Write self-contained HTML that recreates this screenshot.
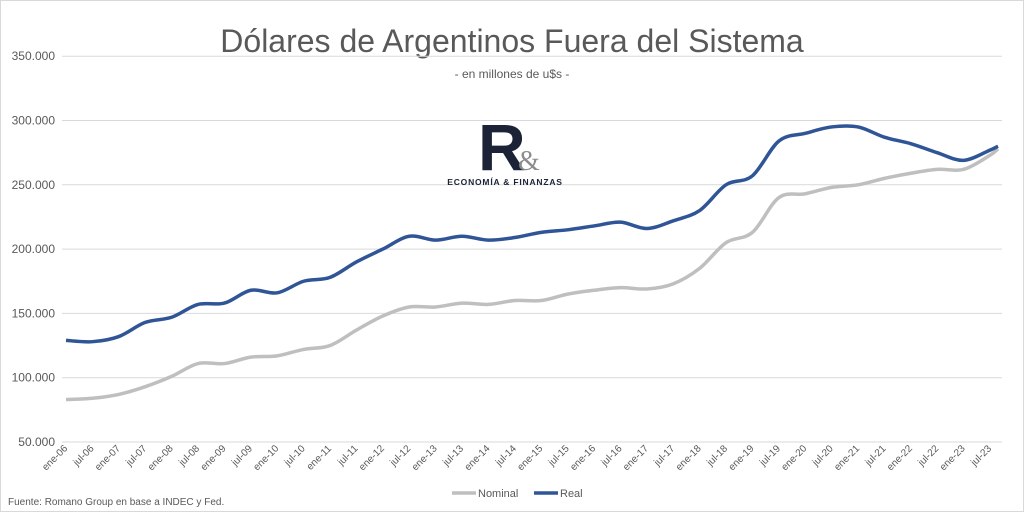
<!DOCTYPE html>
<html><head><meta charset="utf-8"><style>
body{margin:0;background:#fff;}
svg{display:block;font-family:"Liberation Sans",sans-serif;}
</style></head><body>
<svg id="s" width="1024" height="512" viewBox="0 0 1024 512">
<rect x="0.5" y="0.5" width="1023" height="511" fill="#fff" stroke="#d9d9d9"/>
<text x="512" y="52" text-anchor="middle" font-size="32" fill="#595959">Dólares de Argentinos Fuera del Sistema</text>
<text x="512" y="78" text-anchor="middle" font-size="12" fill="#595959">- en millones de u$s  -</text>
<g id="grid" stroke="#d9d9d9" stroke-width="1"></g>
<g id="yl" font-size="12" fill="#595959" text-anchor="end"></g>
<g id="xl" font-size="10" fill="#595959" text-anchor="end"></g>
<text x="478" y="170" font-size="66" font-weight="bold" fill="#1c2337" font-family="Liberation Sans,sans-serif">R</text>
<text x="518" y="170" font-size="28" fill="#8c8c8c" font-family="Liberation Serif,serif">&amp;</text>
<text x="505" y="185" text-anchor="middle" font-size="8.5" font-weight="bold" fill="#1c2337" letter-spacing="0.8">ECONOMÍA &amp; FINANZAS</text>
<path id="nom" fill="none" stroke="#bfbfbf" stroke-width="3.5" stroke-linejoin="round"/>
<path id="real" fill="none" stroke="#2f5597" stroke-width="3.5" stroke-linejoin="round"/>
<line x1="452" y1="493" x2="476" y2="493" stroke="#bfbfbf" stroke-width="3.5"/>
<text x="478" y="497" font-size="11" fill="#595959">Nominal</text>
<line x1="534" y1="493" x2="558" y2="493" stroke="#2f5597" stroke-width="3.5"/>
<text x="560" y="497" font-size="11" fill="#595959">Real</text>
<text x="8" y="505" font-size="10" fill="#595959">Fuente: Romano Group en base a INDEC y Fed.</text>
</svg>
<script>
var ns="http://www.w3.org/2000/svg";
function Y(v){return 442-(v-50)*64.3/50;}
var g=document.getElementById('grid'),yl=document.getElementById('yl'),xl=document.getElementById('xl');
for(var v=50;v<=350;v+=50){var y=Y(v);
 var l=document.createElementNS(ns,'line');l.setAttribute('x1',62);l.setAttribute('x2',1002);l.setAttribute('y1',y);l.setAttribute('y2',y);g.appendChild(l);
 var t=document.createElementNS(ns,'text');t.setAttribute('x',55);t.setAttribute('y',y+4);t.textContent=v+'.000';yl.appendChild(t);}
for(var i=0;i<36;i++){var yr=6+Math.floor(i/2);var lab=(i%2?'jul-':'ene-')+(yr<10?'0':'')+yr;
 var x=68+i*26.4;var t=document.createElementNS(ns,'text');t.setAttribute('transform','translate('+x+',449) rotate(-45)');t.textContent=lab;xl.appendChild(t);}
var real=[129,128,132,143,147,157,158,168,166,175,178,190,200,210,207,210,207,209,213,215,218,221,216,222,230,250,257,284,290,295,295,287,282,275,269,277,280];
var nom=[83,84,87,93,101,111,111,116,117,122,125,137,148,155,155,158,157,160,160,165,168,170,169,173,185,205,213,240,243,248,250,255,259,262,262,273,278];
function path(d){var p=d.map(function(v,i){return [i<36?66+i*26.4:998,Y(v)];});
 var s='M'+p[0][0]+','+p[0][1];
 for(var i=0;i<p.length-1;i++){var p0=p[Math.max(i-1,0)],p1=p[i],p2=p[i+1],p3=p[Math.min(i+2,p.length-1)];
  s+=' C'+(p1[0]+(p2[0]-p0[0])/6)+','+(p1[1]+(p2[1]-p0[1])/6)+' '+(p2[0]-(p3[0]-p1[0])/6)+','+(p2[1]-(p3[1]-p1[1])/6)+' '+p2[0]+','+p2[1];}
 return s;}
document.getElementById('real').setAttribute('d',path(real));
document.getElementById('nom').setAttribute('d',path(nom));
</script>
</body></html>
